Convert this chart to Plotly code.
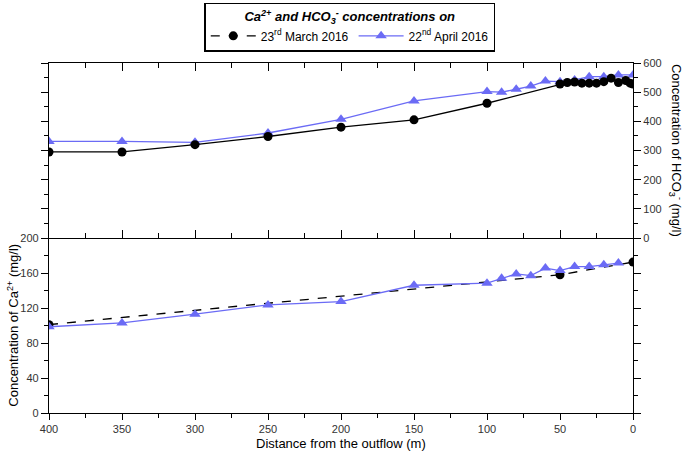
import plotly.graph_objects as go

# ---- data ----
# HCO3- (mg/l), top panel
dist_mar_hco3 = [400, 350, 300, 250, 200, 150, 100, 50, 45, 40, 35, 30, 25, 20, 15, 10, 5, 2, 0]
mar_hco3 = [295, 295, 320, 348, 380, 405, 462, 528, 533, 535, 531, 531, 531, 536, 548, 533, 540, 531, 528]

dist_apr_hco3 = [400, 350, 300, 250, 200, 150, 100, 90, 80, 70, 60, 50, 40, 30, 20, 10, 0]
apr_hco3 = [331, 331, 328, 360, 407, 470, 502, 500, 510, 521, 538, 536, 542, 553, 553, 559, 559]

# Ca2+ (mg/l), bottom panel
dist_mar_ca = [400, 50, 0]
mar_ca = [101, 158, 172.5]

dist_apr_ca = [400, 350, 300, 250, 200, 150, 100, 90, 80, 70, 60, 50, 40, 30, 20, 10]
apr_ca = [98.6, 103, 113, 123.5, 127.3, 146, 148.4, 154, 159, 157, 165.6, 162.8, 167.4, 167.4, 169.4, 171.3]

BLUE = "#6B6BF5"
FONT = "Liberation Sans, Arial, sans-serif"

fig = go.Figure()

# top panel
fig.add_trace(go.Scatter(x=dist_apr_hco3, y=apr_hco3, xaxis="x2", yaxis="y2", mode="lines+markers",
                         line=dict(color=BLUE, width=1.3),
                         marker=dict(symbol="triangle-up", size=10, color=BLUE),
                         showlegend=False))
fig.add_trace(go.Scatter(x=dist_mar_hco3, y=mar_hco3, xaxis="x2", yaxis="y2", mode="lines+markers",
                         line=dict(color="black", width=1.3),
                         marker=dict(symbol="circle", size=9, color="black"),
                         showlegend=False))
# bottom panel
fig.add_trace(go.Scatter(x=dist_mar_ca, y=mar_ca, xaxis="x", yaxis="y", mode="lines+markers",
                         name="23<sup>rd</sup> March 2016",
                         line=dict(color="black", width=1.3, dash="dash"),
                         marker=dict(symbol="circle", size=9, color="black")))
fig.add_trace(go.Scatter(x=dist_apr_ca, y=apr_ca, xaxis="x", yaxis="y", mode="lines+markers",
                         name="22<sup>nd</sup> April 2016",
                         line=dict(color=BLUE, width=1.3),
                         marker=dict(symbol="triangle-up", size=10, color=BLUE)))

tickfont = dict(family=FONT, size=11, color="#333333")
common = dict(showgrid=False, zeroline=False, showline=True, linecolor="black", linewidth=1.2,
              tickcolor="black", tickwidth=1.2)

fig.update_layout(
    width=685, height=457,
    margin=dict(l=49, r=52, t=63, b=44, autoexpand=False),
    paper_bgcolor="white", plot_bgcolor="white",
    font=dict(family=FONT, size=12, color="black"),
    xaxis=dict(domain=[0, 1], anchor="y", range=[400, 0], dtick=50, ticks="outside", ticklen=6,
               minor=dict(dtick=25, ticks="outside", ticklen=4, tickcolor="black"),
               tickfont=tickfont, **common),
    xaxis2=dict(domain=[0, 1], anchor="y2", matches="x", range=[400, 0], dtick=50, ticks="inside", ticklen=8,
                minor=dict(dtick=25, ticks="inside", ticklen=5, tickcolor="black"),
                mirror="allticks", showticklabels=False, **common),
    xaxis3=dict(overlaying="x", anchor="y", side="top", range=[400, 0], dtick=50, ticks="inside", ticklen=9,
                minor=dict(dtick=25, ticks="inside", ticklen=6, tickcolor="black"),
                showticklabels=False, showgrid=False, zeroline=False, showline=False,
                tickcolor="black", tickwidth=1.2),
    yaxis=dict(domain=[0, 0.5], anchor="x", range=[0, 200], dtick=40, ticks="outside", ticklen=7,
               minor=dict(dtick=20, ticks="outside", ticklen=4, tickcolor="black"),
               mirror="allticks", tickfont=tickfont, **common),
    yaxis2=dict(domain=[0.5, 1], anchor="x2", side="right", range=[0, 600], dtick=100, ticks="outside", ticklen=7,
                minor=dict(dtick=50, ticks="outside", ticklen=4, tickcolor="black"),
                mirror="allticks", tickfont=tickfont, **common),
    legend=dict(orientation="h", x=0.515, xanchor="center", y=1.1716, yanchor="top",
                bordercolor="black", borderwidth=1.5, bgcolor="white",
                font=dict(family=FONT, size=12, color="black"),
                itemwidth=45,
                title=dict(text="<b><i>Ca<sup>2+</sup> and HCO<sub>3</sub><sup>-</sup> concentrations on</i></b>",
                           side="top center", font=dict(family=FONT, size=13, color="black"))),
    annotations=[
        dict(text="Distance from the outflow (m)", xref="paper", yref="paper", x=0.5, y=-0.088,
             xanchor="center", yanchor="middle", showarrow=False, font=dict(family=FONT, size=13)),
        dict(text="Concentration of Ca<sup>2+</sup> (mg/l)", xref="paper", yref="paper", x=-0.063, y=0.25,
             xanchor="center", yanchor="middle", textangle=-90, showarrow=False, font=dict(family=FONT, size=13)),
        dict(text="Concentration of HCO<sub>3</sub><sup>-</sup> (mg/l)", xref="paper", yref="paper", x=1.074, y=0.751,
             xanchor="center", yanchor="middle", textangle=90, showarrow=False, font=dict(family=FONT, size=13)),
    ],
)

fig.write_html("out.html", config={"displayModeBar": False},
               post_script="document.body.style.margin='0';document.body.style.overflow='hidden';")
